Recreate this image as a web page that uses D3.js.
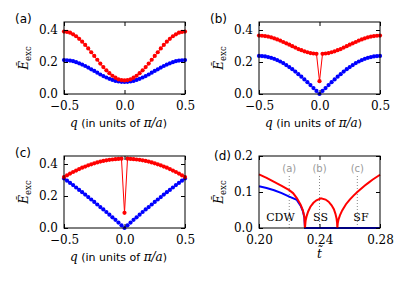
<!DOCTYPE html>
<html>
<head>
<meta charset="utf-8">
<script src="https://cdn.jsdelivr.net/npm/d3@7"></script>
<style>
  body { margin: 0; background: #fff; }
  .tick text { font-family: "DejaVu Serif", serif; }
</style>
</head>
<body>
<div id="chart"></div>
<script>
// momentum grid, in units of pi/a
var qValues = [-0.500,-0.475,-0.450,-0.425,-0.400,-0.375,-0.350,-0.325,-0.300,-0.275,-0.250,-0.225,-0.200,-0.175,-0.150,-0.125,-0.100,-0.075,-0.050,-0.025,0.000,
  0.025,0.050,0.075,0.100,0.125,0.150,0.175,0.200,0.225,0.250,0.275,0.300,0.325,0.350,0.375,0.400,0.425,0.450,0.475,0.500];

// (a) CDW
var redA = [0.390,0.388,0.383,0.373,0.361,0.345,0.327,0.307,0.285,0.261,0.238,0.214,0.190,0.168,0.148,0.130,0.114,0.102,0.092,0.087,0.085,
  0.087,0.092,0.102,0.114,0.130,0.148,0.168,0.190,0.214,0.238,0.261,0.285,0.307,0.327,0.345,0.361,0.373,0.383,0.388,0.390];
var blueA = [0.212,0.211,0.209,0.205,0.199,0.192,0.184,0.175,0.165,0.154,0.144,0.133,0.122,0.112,0.103,0.095,0.088,0.082,0.078,0.076,0.075,
  0.076,0.078,0.082,0.088,0.095,0.103,0.112,0.122,0.133,0.144,0.154,0.165,0.175,0.184,0.192,0.199,0.205,0.209,0.211,0.212];

// (b) SS
var redB = [0.365,0.364,0.362,0.359,0.354,0.348,0.341,0.334,0.325,0.317,0.308,0.299,0.290,0.281,0.274,0.267,0.261,0.256,0.253,0.251,0.080,
  0.251,0.253,0.256,0.261,0.267,0.274,0.281,0.290,0.299,0.308,0.317,0.325,0.334,0.341,0.348,0.354,0.359,0.362,0.364,0.365];
var blueB = [0.238,0.237,0.235,0.231,0.226,0.220,0.212,0.203,0.193,0.181,0.168,0.155,0.140,0.124,0.108,0.091,0.074,0.056,0.037,0.019,0.000,
  0.019,0.037,0.056,0.074,0.091,0.108,0.124,0.140,0.155,0.168,0.181,0.193,0.203,0.212,0.220,0.226,0.231,0.235,0.237,0.238];

// (c) SF
var redC = [0.318,0.329,0.340,0.350,0.359,0.368,0.377,0.384,0.392,0.398,0.404,0.410,0.415,0.419,0.423,0.426,0.428,0.430,0.432,0.433,0.095,
  0.433,0.432,0.430,0.428,0.426,0.423,0.419,0.415,0.410,0.404,0.398,0.392,0.384,0.377,0.368,0.359,0.350,0.340,0.329,0.318];
var blueC = [0.310,0.296,0.282,0.268,0.253,0.238,0.224,0.209,0.193,0.178,0.163,0.147,0.131,0.116,0.100,0.083,0.067,0.051,0.034,0.017,0.000,
  0.017,0.034,0.051,0.067,0.083,0.100,0.116,0.131,0.147,0.163,0.178,0.193,0.209,0.224,0.238,0.253,0.268,0.282,0.296,0.310];

// (d) gap vs hopping t
var tBlue = [0.200,0.205,0.210,0.215,0.220,0.225,0.2275,0.229,0.230,0.2304,0.240,0.250,0.260,0.270,0.280];
var blueD = [0.116,0.111,0.105,0.097,0.087,0.078,0.062,0.047,0.029,0.000,0.000,0.000,0.000,0.000,0.000];
var tRed = [0.200,0.205,0.210,0.215,0.220,0.2225,0.225,0.2275,0.229,0.230,0.2304,
  0.2308,0.2315,0.2325,0.234,0.236,0.238,0.241,0.244,0.246,0.248,0.2495,0.2505,0.2512,0.2516,0.2518,
  0.2521,0.2526,0.2535,0.255,0.2575,0.260,0.2625,0.265,0.2675,0.270,0.2725,0.275,0.2775,0.280];
var redD = [0.149,0.139,0.128,0.117,0.105,0.097,0.083,0.065,0.049,0.031,0.000,
  0.020,0.033,0.046,0.059,0.070,0.077,0.0825,0.079,0.073,0.063,0.052,0.040,0.028,0.016,0.000,
  0.014,0.024,0.035,0.049,0.066,0.079,0.090,0.100,0.109,0.118,0.126,0.134,0.141,0.148];

var qTicks = [-0.5, 0, 0.5];
var eTicks = [0, 0.2, 0.4];
var tTicks = [0.20, 0.24, 0.28];
var eTicksD = [0, 0.1, 0.2];
var markT = [0.22, 0.24, 0.265];
var markNames = ["(a)", "(b)", "(c)"];
var phaseNames = ["CDW", "SS", "SF"];

var svgWidth = 415;
var svgHeight = 286;
var pw = 121;
var ph = 72;
var RED = "#ff0000";
var BLUE = "#0000ff";

var svg = d3.select("#chart")
  .append("svg")
  .attr("width", svgWidth)
  .attr("height", svgHeight);

function frameAndAxes(g, x, y, xTicks, yTicks, xFmt, yFmt) {
  g.append("g")
    .attr("transform", `translate(0, ${ph})`)
    .call(d3.axisBottom(x).tickValues(xTicks).tickFormat(d3.format(xFmt)).tickSizeInner(-4).tickSizeOuter(0).tickPadding(7));
  g.append("g")
    .call(d3.axisTop(x).tickValues(xTicks).tickFormat("").tickSizeInner(-4).tickSizeOuter(0));
  g.append("g")
    .call(d3.axisLeft(y).tickValues(yTicks).tickFormat(d3.format(yFmt)).tickSizeInner(-4).tickSizeOuter(0).tickPadding(6));
  g.append("g")
    .attr("transform", `translate(${pw}, 0)`)
    .call(d3.axisRight(y).tickValues(yTicks).tickFormat("").tickSizeInner(-4).tickSizeOuter(0));
  g.selectAll(".domain").remove();
  g.selectAll(".tick text").attr("font-size", "12px").attr("fill", "#000");
  g.append("rect")
    .attr("x", 0).attr("y", 0)
    .attr("width", pw).attr("height", ph)
    .attr("fill", "none")
    .attr("stroke", "#000")
    .attr("stroke-width", 1);
}

function yLabel(g) {
  var t = g.append("text")
    .attr("transform", `translate(-36, ${ph / 2}) rotate(-90)`)
    .attr("text-anchor", "middle")
    .attr("font-family", "DejaVu Serif, serif")
    .attr("font-size", "12px");
  t.append("tspan").attr("font-style", "italic").text("Ẽ");
  t.append("tspan").attr("font-size", "8.5px").attr("dy", 3).text("exc");
}

function qPanel(left, top, red, blue, label) {
  var g = svg.append("g").attr("transform", `translate(${left}, ${top})`);
  var x = d3.scaleLinear().domain([-0.5, 0.5]).range([0, pw]);
  var y = d3.scaleLinear().domain([0, 0.45]).range([ph, 0]);

  [[blue, BLUE], [red, RED]].forEach(function(s) {
    var pts = qValues.map((q, i) => [q, s[0][i]]);
    g.append("path")
      .datum(pts)
      .attr("fill", "none")
      .attr("stroke", s[1])
      .attr("stroke-width", 1)
      .attr("d", d3.line().x(d => x(d[0])).y(d => y(d[1])));
    g.append("g")
      .selectAll("circle")
      .data(pts)
      .enter()
      .append("circle")
      .attr("cx", d => x(d[0]))
      .attr("cy", d => y(d[1]))
      .attr("r", 2.1)
      .attr("fill", s[1]);
  });

  frameAndAxes(g, x, y, qTicks, eTicks, ".1f", ".1f");
  yLabel(g);

  var xl = g.append("text")
    .attr("x", pw / 2 - 6)
    .attr("y", ph + 33)
    .attr("text-anchor", "middle")
    .attr("font-family", "DejaVu Sans, sans-serif")
    .attr("font-size", "11px");
  xl.append("tspan").attr("font-family", "DejaVu Serif, serif").attr("font-style", "italic").attr("font-size", "12px").text("q");
  xl.append("tspan").text(" (in units of ");
  xl.append("tspan").attr("font-family", "DejaVu Serif, serif").attr("font-style", "italic").attr("font-size", "12px").text("π/a");
  xl.append("tspan").text(")");

  svg.append("text")
    .attr("x", left - 49)
    .attr("y", top + 1)
    .attr("font-family", "DejaVu Sans, sans-serif")
    .attr("font-size", "12px")
    .text(label);
}

qPanel(64, 22, redA, blueA, "(a)");
qPanel(259, 22, redB, blueB, "(b)");
qPanel(64, 156, redC, blueC, "(c)");

// panel (d)
var gd = svg.append("g").attr("transform", "translate(259, 156)");
var xd = d3.scaleLinear().domain([0.20, 0.28]).range([0, pw]);
var yd = d3.scaleLinear().domain([0, 0.2]).range([ph, 0]);

gd.selectAll(".mark")
  .data(markT)
  .enter()
  .append("line")
  .attr("x1", d => xd(d)).attr("x2", d => xd(d))
  .attr("y1", 20).attr("y2", ph)
  .attr("stroke", "#888")
  .attr("stroke-width", 1)
  .attr("stroke-dasharray", "1,2");

gd.selectAll(".markname")
  .data(markT)
  .enter()
  .append("text")
  .attr("x", d => xd(d))
  .attr("y", 16)
  .attr("text-anchor", "middle")
  .attr("font-family", "DejaVu Sans, sans-serif")
  .attr("font-size", "10px")
  .attr("fill", "#999")
  .text((d, i) => markNames[i]);

var phaseAt = [0.2142, 0.2407, 0.2674];
gd.selectAll(".phase")
  .data(phaseNames)
  .enter()
  .append("text")
  .attr("x", (d, i) => xd(phaseAt[i]))
  .attr("y", ph - 7)
  .attr("text-anchor", "middle")
  .attr("font-family", "DejaVu Serif, serif")
  .attr("font-size", "11px")
  .text(d => d);

var lineD = d3.line().x(d => xd(d[0])).y(d => yd(d[1]));
gd.append("path")
  .datum(tBlue.map((t, i) => [t, blueD[i]]))
  .attr("fill", "none")
  .attr("stroke", BLUE)
  .attr("stroke-width", 2)
  .attr("d", lineD);
gd.append("path")
  .datum(tRed.map((t, i) => [t, redD[i]]))
  .attr("fill", "none")
  .attr("stroke", RED)
  .attr("stroke-width", 2)
  .attr("d", lineD);

frameAndAxes(gd, xd, yd, tTicks, eTicksD, ".2f", ".1f");
yLabel(gd);

gd.append("text")
  .attr("x", pw / 2)
  .attr("y", ph + 30)
  .attr("text-anchor", "middle")
  .attr("font-family", "DejaVu Serif, serif")
  .attr("font-style", "italic")
  .attr("font-size", "12px")
  .text("t\u0303");

svg.append("text")
  .attr("x", 214)
  .attr("y", 160)
  .attr("font-family", "DejaVu Sans, sans-serif")
  .attr("font-size", "12px")
  .text("(d)");
</script>
</body>
</html>
